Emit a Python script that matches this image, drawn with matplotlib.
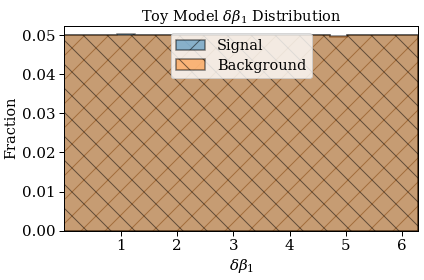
import numpy as np
import matplotlib.pyplot as plt

plt.rcParams['font.family'] = 'DejaVu Serif'
plt.rcParams['mathtext.fontset'] = 'dejavuserif'

# bin edges over 0..2pi, 20 bins
n_bins = 20
edges = np.linspace(0, 2 * np.pi, n_bins + 1)
centers = 0.5 * (edges[:-1] + edges[1:])

signal_frac = [0.0500, 0.0500, 0.0500, 0.0503, 0.0500, 0.0500, 0.0500, 0.0500, 0.0500, 0.0500,
               0.0500, 0.0500, 0.0500, 0.0500, 0.0500, 0.0496, 0.0501, 0.0500, 0.0500, 0.0500]
background_frac = [0.0500, 0.0500, 0.0500, 0.0500, 0.0500, 0.0500, 0.0500, 0.0500, 0.0500, 0.0500,
                   0.0500, 0.0500, 0.0500, 0.0500, 0.0500, 0.0499, 0.0501, 0.0500, 0.0500, 0.0500]

fig = plt.figure(figsize=(424 / 72, 280 / 72), dpi=72)
ax = fig.add_axes([0.152, 0.176, 0.834, 0.732])

ax.hist(centers, bins=edges, weights=signal_frac, histtype='stepfilled',
        color='tab:blue', alpha=0.5, hatch='/', edgecolor='black', linewidth=1.5, label='Signal')
ax.hist(centers, bins=edges, weights=background_frac, histtype='stepfilled',
        color='tab:orange', alpha=0.5, hatch='\\', edgecolor='black', linewidth=1.5, label='Background')

ax.set_xlim(0, 2 * np.pi)
ax.set_ylim(0, 0.0524)
ax.set_xticks([1, 2, 3, 4, 5, 6])
ax.set_yticks([0.0, 0.01, 0.02, 0.03, 0.04, 0.05])
ax.set_yticklabels(['0.00', '0.01', '0.02', '0.03', '0.04', '0.05'])
ax.tick_params(labelsize=15, length=5, width=1)
for s in ax.spines.values():
    s.set_linewidth(1)

ax.set_xlabel(r'$\delta\beta_1$', fontsize=15)
ax.set_ylabel('Fraction', fontsize=14.5)
ax.set_title(r'Toy Model $\delta\beta_1$ Distribution', fontsize=14.5, pad=4)
ax.legend(loc='upper center', fontsize=14.5, handlelength=2.0, borderpad=0.4,
          labelspacing=0.4, framealpha=0.8)

fig.savefig('out.png', dpi=72)
